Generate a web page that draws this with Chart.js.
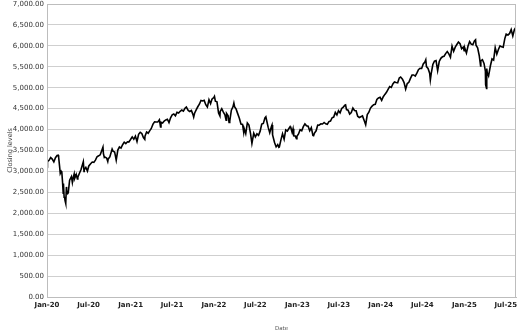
<!DOCTYPE html>
<html><head><meta charset="utf-8">
<script src="https://cdn.jsdelivr.net/npm/chart.js@4.4.1/dist/chart.umd.min.js"></script>
<style>html,body{margin:0;padding:0;background:#fff}#wrap{width:528px;height:336px}</style>
</head><body><div id="wrap"><canvas id="c" width="528" height="336"></canvas></div>
<script>
const dates = [
"2020-01-02","2020-01-03","2020-01-10","2020-01-17","2020-01-24","2020-01-31","2020-02-07","2020-02-14","2020-02-19","2020-02-21","2020-02-25","2020-02-28",
"2020-03-03","2020-03-06","2020-03-09","2020-03-12","2020-03-13","2020-03-16","2020-03-18","2020-03-20","2020-03-23","2020-03-26","2020-03-27",
"2020-04-01","2020-04-03","2020-04-09","2020-04-17","2020-04-21","2020-04-24","2020-04-29","2020-05-01","2020-05-08","2020-05-13","2020-05-15","2020-05-22","2020-05-29",
"2020-06-08","2020-06-11","2020-06-12","2020-06-19","2020-06-26","2020-07-02","2020-07-10","2020-07-17","2020-07-24","2020-07-31",
"2020-08-07","2020-08-14","2020-08-21","2020-09-02","2020-09-04","2020-09-08","2020-09-11","2020-09-18","2020-09-23","2020-09-25",
"2020-10-02","2020-10-12","2020-10-16","2020-10-23","2020-10-30","2020-11-06","2020-11-13","2020-11-20","2020-11-27",
"2020-12-04","2020-12-11","2020-12-18","2020-12-24","2020-12-31",
"2021-01-08","2021-01-15","2021-01-22","2021-01-27","2021-01-29","2021-02-05","2021-02-12","2021-02-19","2021-02-26","2021-03-04","2021-03-05","2021-03-12","2021-03-19","2021-03-26",
"2021-04-01","2021-04-09","2021-04-16","2021-04-23","2021-04-30","2021-05-07","2021-05-12","2021-05-14","2021-05-21","2021-05-28",
"2021-06-04","2021-06-11","2021-06-18","2021-06-25","2021-07-02","2021-07-09","2021-07-16","2021-07-23","2021-07-30",
"2021-08-06","2021-08-13","2021-08-20","2021-08-27","2021-09-02","2021-09-10","2021-09-17","2021-09-24","2021-10-01","2021-10-04","2021-10-08","2021-10-15","2021-10-22","2021-10-29",
"2021-11-05","2021-11-12","2021-11-19","2021-11-26","2021-12-03","2021-12-10","2021-12-17","2021-12-23","2021-12-31",
"2022-01-03","2022-01-07","2022-01-14","2022-01-21","2022-01-27","2022-01-28","2022-02-04","2022-02-11","2022-02-18","2022-02-23","2022-02-25",
"2022-03-04","2022-03-08","2022-03-11","2022-03-18","2022-03-25","2022-03-29","2022-04-01","2022-04-08","2022-04-14","2022-04-22","2022-04-29",
"2022-05-06","2022-05-11","2022-05-13","2022-05-20","2022-05-27","2022-06-03","2022-06-10","2022-06-16","2022-06-24","2022-07-01","2022-07-08","2022-07-15","2022-07-22","2022-07-29",
"2022-08-05","2022-08-12","2022-08-16","2022-08-19","2022-08-26","2022-09-02","2022-09-09","2022-09-12","2022-09-13","2022-09-16","2022-09-23","2022-09-30",
"2022-10-07","2022-10-12","2022-10-14","2022-10-21","2022-10-28","2022-11-04","2022-11-11","2022-11-18","2022-11-25","2022-12-01","2022-12-02","2022-12-09","2022-12-13","2022-12-16","2022-12-23","2022-12-28","2022-12-30",
"2023-01-06","2023-01-13","2023-01-20","2023-01-27","2023-02-03","2023-02-10","2023-02-17","2023-02-24","2023-03-03","2023-03-10","2023-03-13","2023-03-17","2023-03-24","2023-03-31",
"2023-04-06","2023-04-14","2023-04-21","2023-04-28","2023-05-05","2023-05-12","2023-05-19","2023-05-26","2023-06-02","2023-06-09","2023-06-16","2023-06-23","2023-06-30",
"2023-07-07","2023-07-14","2023-07-21","2023-07-28","2023-07-31","2023-08-04","2023-08-11","2023-08-18","2023-08-25","2023-09-01","2023-09-08","2023-09-15","2023-09-22","2023-09-29",
"2023-10-06","2023-10-13","2023-10-20","2023-10-27","2023-11-03","2023-11-10","2023-11-17","2023-11-24","2023-12-01","2023-12-08","2023-12-15","2023-12-22","2023-12-29",
"2024-01-05","2024-01-12","2024-01-19","2024-01-26","2024-02-02","2024-02-09","2024-02-16","2024-02-23","2024-03-01","2024-03-08","2024-03-15","2024-03-22","2024-03-28",
"2024-04-05","2024-04-12","2024-04-19","2024-04-26","2024-05-03","2024-05-10","2024-05-17","2024-05-24","2024-05-31","2024-06-07","2024-06-14","2024-06-21","2024-06-28",
"2024-07-05","2024-07-12","2024-07-16","2024-07-19","2024-07-26","2024-08-02","2024-08-05","2024-08-09","2024-08-16","2024-08-23","2024-08-30","2024-09-06","2024-09-13","2024-09-20","2024-09-27",
"2024-10-04","2024-10-11","2024-10-18","2024-10-25","2024-11-01","2024-11-08","2024-11-15","2024-11-22","2024-11-29","2024-12-06","2024-12-13","2024-12-20","2024-12-27","2024-12-31",
"2025-01-03","2025-01-10","2025-01-17","2025-01-24","2025-01-31","2025-02-07","2025-02-14","2025-02-19","2025-02-21","2025-02-28","2025-03-07","2025-03-13","2025-03-14","2025-03-21","2025-03-28",
"2025-04-03","2025-04-04","2025-04-08","2025-04-09","2025-04-11","2025-04-17","2025-04-25","2025-05-02","2025-05-09","2025-05-16","2025-05-23","2025-05-30",
"2025-06-06","2025-06-13","2025-06-20","2025-06-27","2025-07-03","2025-07-11","2025-07-18","2025-07-25","2025-08-01","2025-08-08","2025-08-15"
];
const closes = [
3258,3235,3265,3330,3295,3226,3328,3380,3386,3338,3128,2954,
3003,2972,2747,2481,2711,2386,2398,2305,2237,2630,2541,
2471,2489,2790,2875,2737,2837,2940,2831,2930,2820,2864,2955,3044,
3232,3002,3041,3098,3009,3130,3185,3225,3216,3271,
3351,3373,3397,3580,3427,3332,3341,3319,3237,3298,
3348,3535,3484,3465,3270,3510,3585,3558,3638,
3699,3663,3709,3703,3756,
3825,3768,3841,3751,3714,3887,3934,3907,3811,3768,3842,3943,3913,3975,
4020,4129,4185,4180,4181,4233,4063,4174,4156,4204,
4230,4247,4166,4281,4352,4370,4327,4412,4395,
4437,4468,4442,4509,4537,4459,4433,4455,4357,4300,4391,4471,4545,4605,
4697,4683,4698,4595,4538,4712,4620,4726,4766,
4796,4677,4663,4398,4326,4432,4500,4419,4349,4225,4385,
4329,4170,4204,4463,4543,4632,4546,4488,4393,4272,4132,
4123,3935,4024,3901,4158,4109,3901,3667,3912,3825,3899,3863,3962,4130,
4145,4280,4305,4228,4058,3924,4067,4110,3933,3873,3693,3586,
3640,3577,3583,3753,3901,3771,3993,3965,4026,4076,4072,3934,4019,3852,3845,3783,3840,
3895,3999,3973,4071,4136,4090,4079,3970,4046,3862,3855,3917,3971,4109,
4105,4138,4133,4169,4136,4124,4192,4205,4282,4299,4410,4348,4450,
4399,4505,4536,4582,4589,4478,4464,4370,4406,4516,4457,4450,4320,4288,
4308,4327,4224,4117,4358,4415,4514,4559,4595,4604,4719,4755,4770,
4697,4784,4840,4891,4959,5027,5006,5089,5137,5124,5117,5234,5254,
5204,5123,4967,5100,5128,5223,5303,5305,5278,5347,5432,5465,5460,
5567,5615,5667,5505,5459,5346,5186,5344,5554,5634,5648,5408,5626,5703,5738,
5751,5815,5864,5808,5729,5995,5870,5969,6032,6090,6051,5931,5971,5882,
5942,5827,5997,6101,6041,6026,6115,6144,6013,5955,5770,5522,5639,5667,5581,
5397,5074,4983,5457,5363,5283,5525,5687,5660,5958,5803,5912,
6000,5977,5968,6173,6279,6260,6297,6389,6238,6389,6449
];
const tickDates = ["2020-01-01","2020-07-01","2021-01-01","2021-07-01","2022-01-01","2022-07-01","2023-01-01","2023-07-01","2024-01-01","2024-07-01","2025-01-01","2025-07-01"];
const tickLabels = ["Jan-20","Jul-20","Jan-21","Jul-21","Jan-22","Jul-22","Jan-23","Jul-23","Jan-24","Jul-24","Jan-25","Jul-25"];
const yTitle = "Closing levels";
const xTitle = "Date";

const origin = Date.UTC(2020,0,1);
const dayOf = s => { const p = s.split('-').map(Number); return (Date.UTC(p[0],p[1]-1,p[2]) - origin)/86400000; };
const points = dates.map((d,i) => ({x: dayOf(d), y: closes[i]}));
const tickDays = tickDates.map(dayOf);

const frame = {
  id: 'frame',
  afterDraw(chart){
    const a = chart.chartArea, ctx = chart.ctx;
    ctx.save();
    ctx.strokeStyle = '#bdbdbd'; ctx.lineWidth = 1;
    ctx.strokeRect(Math.round(a.left)+0.5, Math.round(a.top)+0.5, Math.round(a.right-a.left)-1, Math.round(a.bottom-a.top));
    ctx.restore();
  }
};

new Chart(document.getElementById('c'), {
  type: 'line',
  data: { datasets: [{ data: points, borderColor: '#000', borderWidth: 1.6, pointRadius: 0, tension: 0, fill: false }] },
  options: {
    responsive: false, animation: false,
    layout: { padding: { top: 4, right: 12, left: 0, bottom: 0 } },
    plugins: { legend: { display: false }, tooltip: { enabled: false } },
    scales: {
      x: {
        type: 'linear', min: 0, max: dayOf(dates[dates.length-1]),
        afterBuildTicks: s => { s.ticks = tickDays.map(v => ({value: v})); },
        afterFit: s => { s.height = 39; s.paddingLeft = 0; s.paddingRight = 0; },
        grid: { display: false, drawTicks: false },
        border: { color: '#bdbdbd' },
        ticks: { autoSkip: false, maxRotation: 0, padding: 4, color: '#222',
          font: { family: 'DejaVu Sans', size: 7, weight: 'bold' },
          callback: (v) => { const i = tickDays.indexOf(v); return i >= 0 ? tickLabels[i] : ''; } },
        title: { display: true, text: xTitle, color: '#555', font: { family: 'DejaVu Sans', size: 5.5 }, padding: { top: 4, bottom: 4 } }
      },
      y: {
        min: 0, max: 7000,
        afterFit: s => { s.width = 47; s.paddingTop = 0; s.paddingBottom = 0; },
        grid: { color: '#cfcfcf', lineWidth: 1, drawTicks: false },
        border: { color: '#bdbdbd' },
        ticks: { stepSize: 500, padding: 3, color: '#333',
          font: { family: 'DejaVu Sans', size: 7 },
          callback: v => Number(v).toLocaleString('en-US', {minimumFractionDigits: 2, maximumFractionDigits: 2}) },
        title: { display: true, text: yTitle, color: '#444', font: { family: 'DejaVu Sans', size: 6.5 }, padding: { top: 6, bottom: 6 } }
      }
    }
  },
  plugins: [frame]
});
</script>
</body></html>
